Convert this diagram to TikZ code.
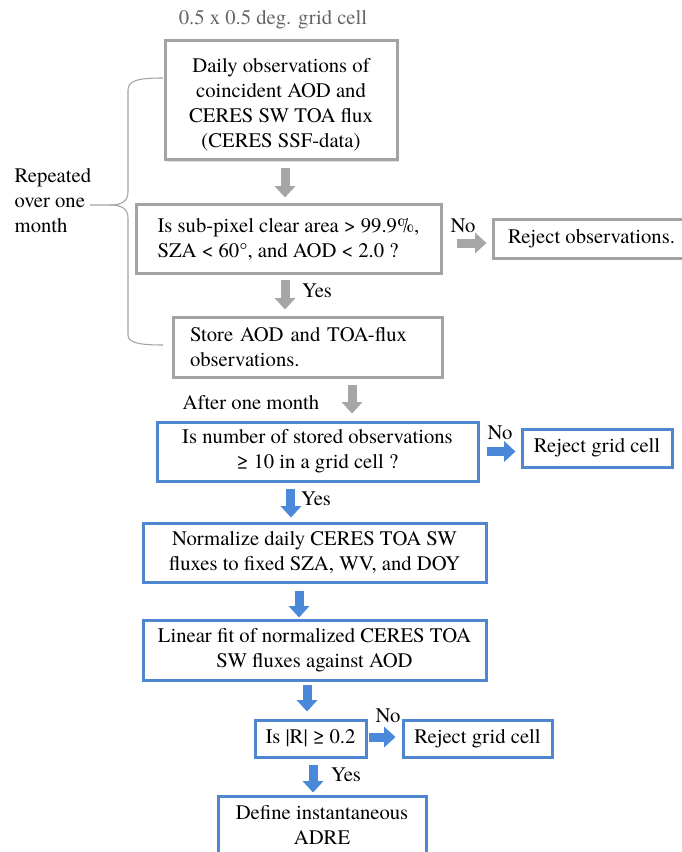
\documentclass[tikz,border=0pt]{standalone}
\usepackage{fontspec}
\setmainfont{TeX Gyre Termes}
\usetikzlibrary{arrows.meta, shadows, positioning}
\definecolor{boxgray}{RGB}{163,163,163}
\definecolor{arrgray}{RGB}{166,166,166}
\definecolor{boxblue}{RGB}{79,134,208}
\definecolor{arrblue}{RGB}{74,137,218}
\definecolor{titlegray}{RGB}{100,100,100}
\tikzset{
gbox/.style={draw=boxgray, line width=2.25pt, fill=white, inner sep=0pt, align=center,
  drop shadow={shadow xshift=1.2pt, shadow yshift=-1.2pt, opacity=0.25}}, % grey step box
bbox/.style={gbox, draw=boxblue}, % blue step box
garrow/.style={draw=arrgray, line width=6.75pt, -{Triangle[length=8.5pt, width=15pt]}}, % fat grey arrow
barrow/.style={garrow, draw=arrblue}, % fat blue arrow
brace/.style={draw=boxgray, line width=0.8pt}, % the left bracket
}
\begin{document}
\begin{tikzpicture}[x=0.75pt, y=-0.75pt, font=\fontsize{15.5}{18.75}\selectfont]
\useasboundingbox (0,0) rectangle (681,852);
\node[text=titlegray] (cell) at (273,20) {0.5 x 0.5 deg. grid cell};
\node[gbox, minimum width=174pt, minimum height=89.25pt] (b1) at (281,100.5)
    {\rule{0pt}{17pt}Daily observations of\\coincident AOD and\\CERES SW TOA flux\\(CERES SSF-data)};
\node[gbox, align=left, minimum width=228.75pt, minimum height=51pt] (b2) at (288.5,239)
    {Is sub-pixel clear area > 99.9\%,\\SZA < 60°, and AOD < 2.0 ?};
\node[gbox, minimum width=147.75pt, minimum height=28.5pt] (r1) at (591.5,239) {Reject observations.};
\node[gbox, align=left, inner xsep=12.75pt, text width=176.25pt, minimum height=45pt] (b3) at (307.5,347)
    {Store AOD and TOA-flux\\observations.};
\node[bbox, minimum width=240.75pt, minimum height=44.25pt] (b4) at (317.5,451.5)
    {Is number of stored observations\\≥ 10 in a grid cell ?};
\node[bbox, minimum width=112.5pt, minimum height=28.5pt] (r2) at (597,448) {Reject grid cell};
\node[bbox, minimum width=257.25pt, minimum height=44.25pt] (b5) at (314.5,552.5)
    {Normalize daily CERES TOA SW\\fluxes to fixed SZA, WV, and DOY};
\node[bbox, minimum width=257.25pt, minimum height=45pt] (b6) at (314.5,650)
    {Linear fit of normalized CERES TOA\\SW fluxes against AOD};
\node[bbox, minimum width=83.25pt, minimum height=27.75pt] (b7) at (310.5,738.5) {Is |R| ≥ 0.2};
\node[bbox, minimum width=111.75pt, minimum height=27.75pt] (r3) at (477.5,738.5) {Reject grid cell};
\node[bbox, minimum width=156pt, minimum height=43.5pt] (b8) at (322,825)
    {Define instantaneous\\ADRE};

% arrows between the steps
\draw[garrow, shorten <=5.25pt, shorten >=4.5pt] ([xshift=3pt]b1.south) -- ([xshift=3pt]b1.south |- b2.north);
\draw[garrow, shorten <=3.75pt, shorten >=4.5pt] ([xshift=-2.6pt]b2.south) -- ([xshift=-2.6pt]b2.south |- b3.north);
\draw[garrow, shorten <=10.5pt, shorten >=3.75pt] ([yshift=-3pt]b2.east) -- ([yshift=-3pt]b2.east -| r1.west);
\draw[garrow, shorten <=4.5pt, shorten >=5.25pt] ([xshift=33.4pt]b3.south) -- ([xshift=33.4pt]b3.south |- b4.north);
\draw[barrow, shorten <=5.25pt, shorten >=3.75pt] (b4.east) -- (b4.east -| r2.west);
\draw[barrow, shorten <=4.5pt, shorten >=3pt] ([xshift=-19.9pt]b4.south) -- ([xshift=-19.9pt]b4.south |- b5.north);
\draw[barrow, shorten <=5.25pt, shorten >=0.75pt] ([xshift=-11.6pt]b5.south) -- ([xshift=-11.6pt]b5.south |- b6.north);
\draw[barrow, shorten <=2.25pt, shorten >=5.25pt] ([xshift=-5.6pt]b6.south) -- ([xshift=-5.6pt]b6.south |- b7.north);
\draw[barrow, shorten <=1.1pt, shorten >=4.5pt] ([yshift=1.1pt]b7.east) -- ([yshift=1.1pt]b7.east -| r3.west);
\draw[barrow, shorten <=4.5pt, shorten >=1.5pt] ([xshift=1.9pt]b7.south) -- ([xshift=1.9pt]b7.south |- b8.north);

% labels
\node (no1) at (463,226) {No};
\node (no2) at (500,433) {No};
\node (no3) at (388,716) {No};
\node (yes1) at (317,291) {Yes};
\node (yes2) at (316,499) {Yes};
\node (yes3) at (346,775) {Yes};
\node (after) at (251,403) {After one month};
\node[anchor=west, align=left] (rep) at (10,201) {Repeated\\over one\\month};

% bracket over one month
\draw[brace] (163,78) .. controls (140,78) and (128,80) .. (128,90) -- (128,192)
    .. controls (128,201) and (122,205) .. (110,205) -- (90,205);
\draw[brace] (110,205) .. controls (122,205) and (128,209) .. (128,218) -- (128,335)
    .. controls (128,343) and (140,345) .. (163,345);
\end{tikzpicture}
\end{document}
